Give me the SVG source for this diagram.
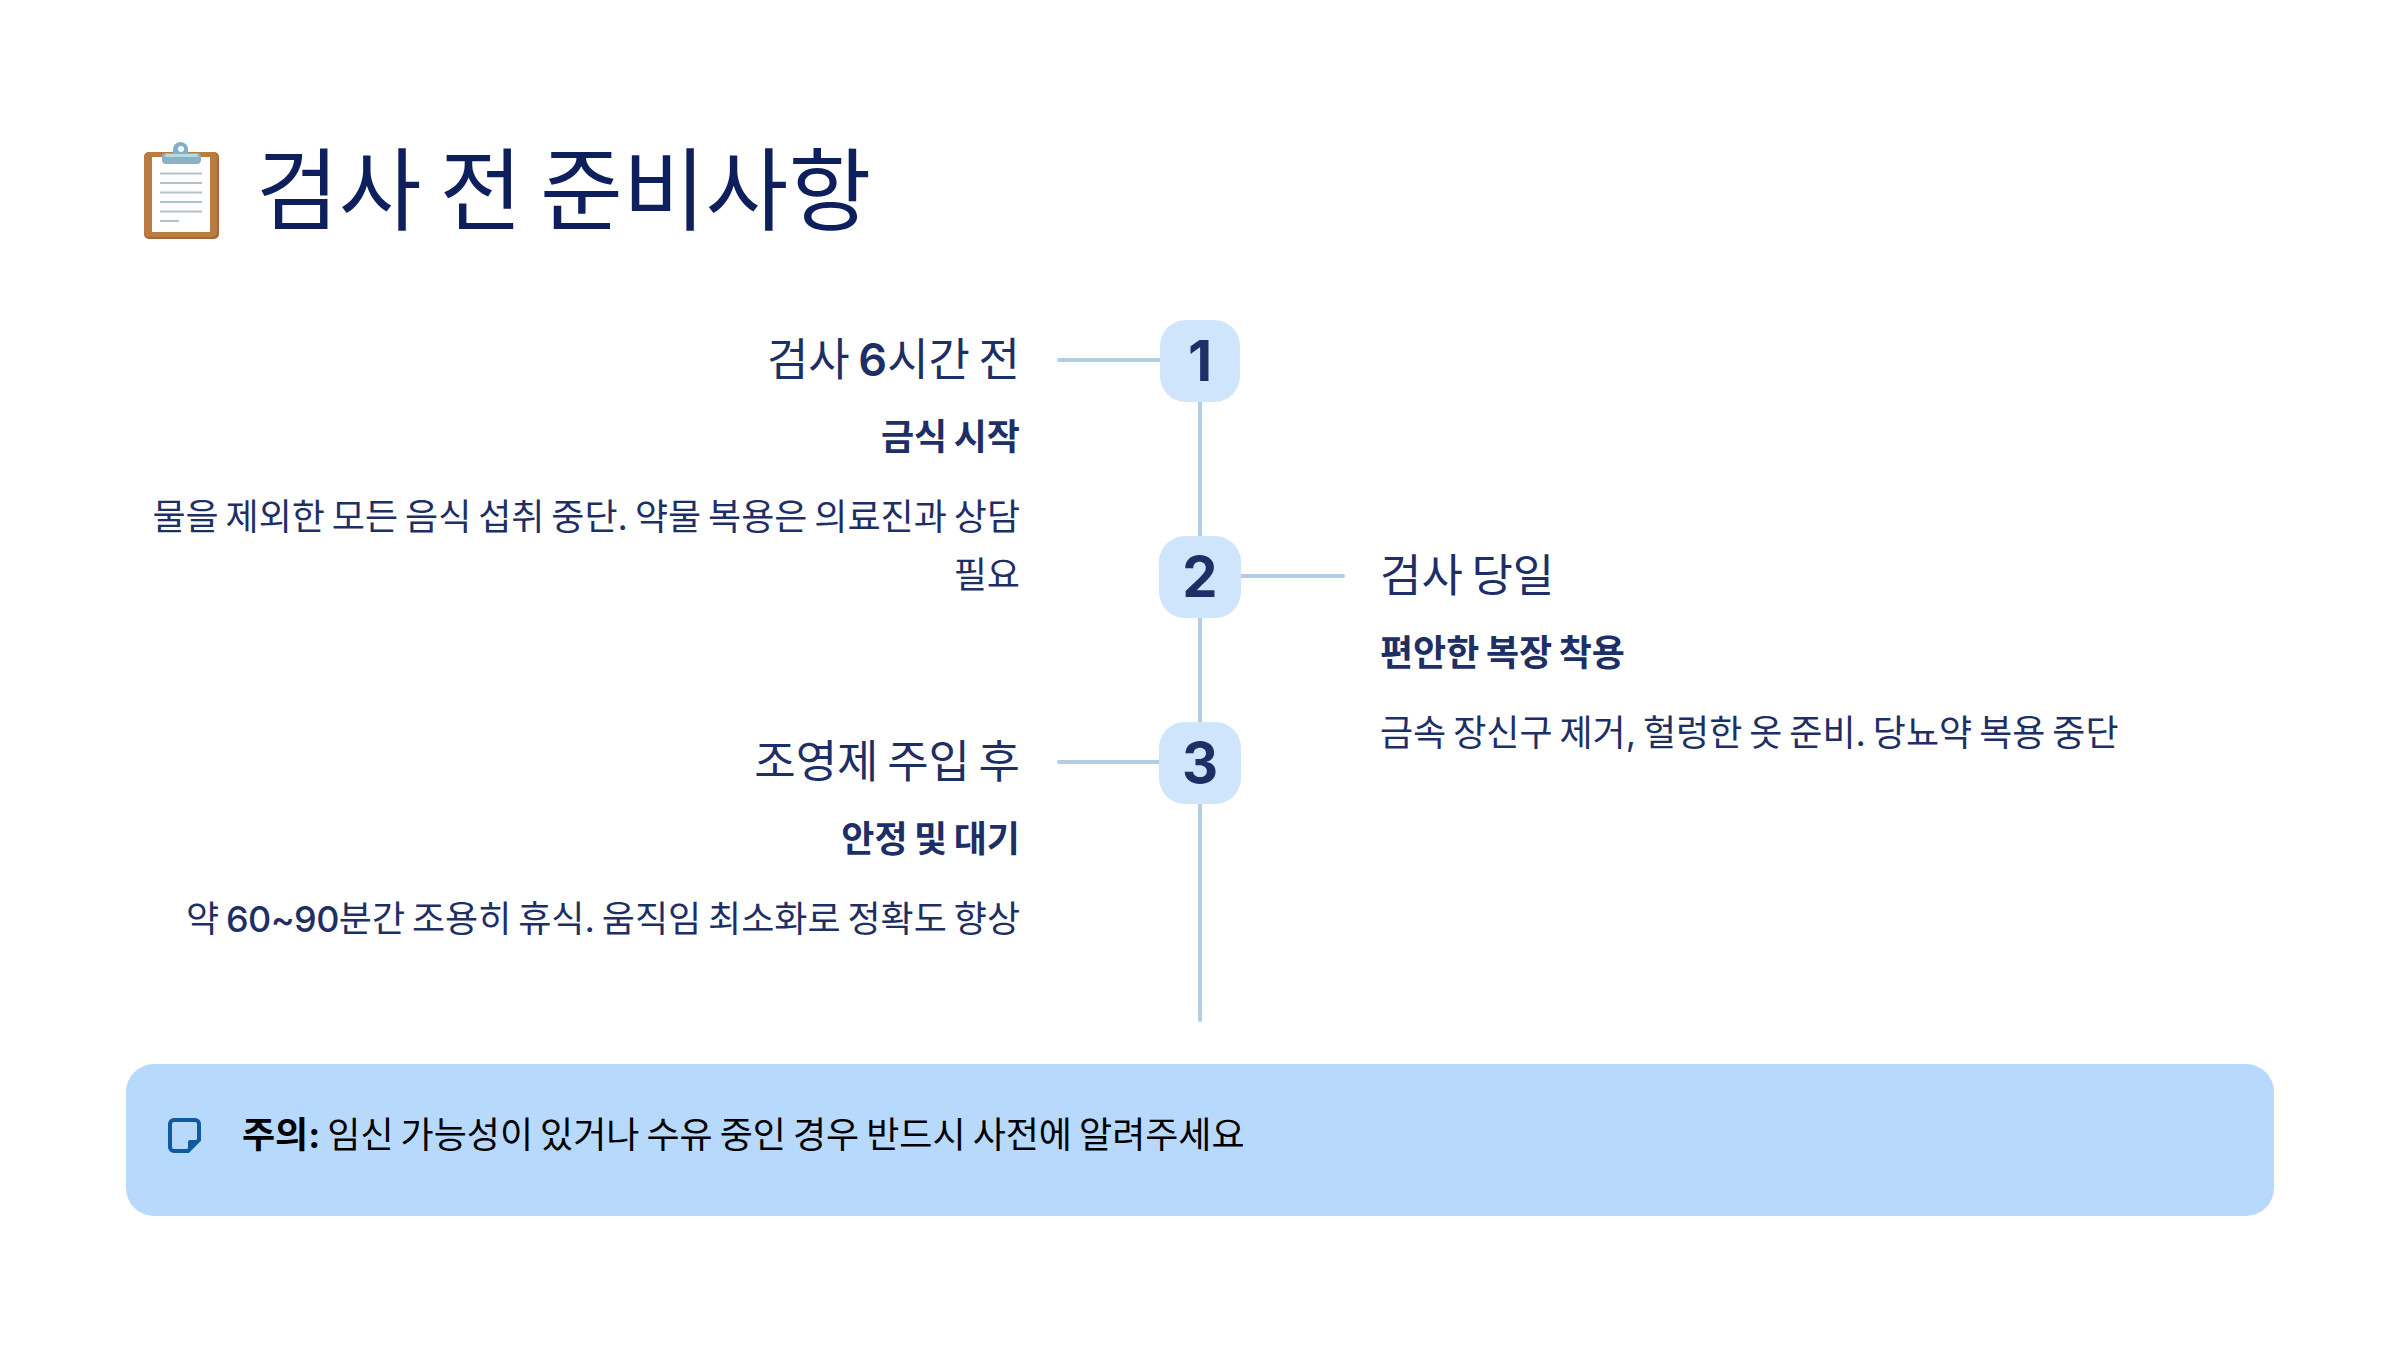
<svg xmlns="http://www.w3.org/2000/svg" width="2400" height="1350" viewBox="0 0 2400 1350">
<style>
text{font-family:Inter,"Noto Sans CJK KR",sans-serif;fill:#1e2f66}
.title{font-size:90px;fill:#0d1f5c;word-spacing:-7.500px}
.h{font-size:45px;word-spacing:-4px}
.s{font-size:36px;font-weight:700;word-spacing:-2px}
.b{font-size:36px;word-spacing:-3.200px}
.e{text-anchor:end}
.n{font-size:56px;font-weight:700;text-anchor:middle}
.badge{fill:#cfe5fc}
.ln{stroke:#b3cde5;stroke-width:4;stroke-linecap:round;fill:none}
.note{font-size:36px;fill:#000;word-spacing:-3.100px}
</style>
<rect width="2400" height="1350" fill="#fff"/>
<g id="title">
<g id="clipboard-icon">
<rect x="144" y="152" width="75" height="87" rx="5" fill="#a8673a"/>
<rect x="144" y="152" width="73" height="85" rx="5" fill="#bb7c42"/>
<rect x="152" y="157" width="58" height="75" fill="#fff"/>
<path d="M173 156 v-6.500 a7.500 7.500 0 0 1 15 0 v6.500z" fill="#7fb0c6"/>
<circle cx="181" cy="149" r="3" fill="#fff"/>
<rect x="162" y="153" width="39" height="11" rx="4" fill="#8ab2c4"/>
<rect x="165" y="154" width="33" height="3" rx="1.500" fill="#b5dbe6"/>
<path d="M160 173.500h42M160 183h42M160 192.500h42M160 202h42M160 211.500h42M160 221h19" stroke="#b2c2cb" stroke-width="2" fill="none"/>
</g>
<text class="title" x="256" y="223">검사 전 준비사항</text>
</g>
<g id="connectors">
<path class="ln" d="M1200 402V536M1200 618V722M1200 804V1020"/>
<path class="ln" d="M1059 360H1160M1241 576H1343M1059 762H1160"/>
</g>
<g id="node-1">
<rect class="badge" x="1160" y="320" width="80" height="82" rx="26"/>
<text class="n" x="1200" y="381">1</text>
<text class="h e" x="1020" y="376">검사 <tspan font-weight="600">6</tspan>시간 전</text>
<text class="s e" x="1020" y="450">금식 시작</text>
<text class="b e" x="1020" y="530">물을 제외한 모든 음식 섭취 중단. 약물 복용은 의료진과 상담</text>
<text class="b e" x="1020" y="588">필요</text>
</g>
<g id="node-2">
<rect class="badge" x="1159" y="536" width="82" height="82" rx="26"/>
<text class="n" x="1200" y="597">2</text>
<text class="h" x="1380" y="592">검사 당일</text>
<text class="s" x="1380" y="666">편안한 복장 착용</text>
<text class="b" x="1380" y="746">금속 장신구 제거, 헐렁한 옷 준비. 당뇨약 복용 중단</text>
</g>
<g id="node-3">
<rect class="badge" x="1159" y="722" width="82" height="82" rx="26"/>
<text class="n" x="1200" y="783">3</text>
<text class="h e" x="1020" y="778">조영제 주입 후</text>
<text class="s e" x="1020" y="852">안정 및 대기</text>
<text class="b e" x="1020" y="932">약 <tspan font-weight="500" letter-spacing="-0.600">60~90</tspan>분간 조용히 휴식. 움직임 최소화로 정확도 향상</text>
</g>
<g id="note">
<rect x="126" y="1064" width="2148" height="152" rx="28" fill="#b6d9fc"/>
<path d="M174 1120h21a4 4 0 0 1 4 4v16l-11 11h-14a4 4 0 0 1-4-4v-23a4 4 0 0 1 4-4z" fill="none" stroke="#0f5aa0" stroke-width="4"/>
<path d="M188 1151v-9a2 2 0 0 1 2-2h9z" fill="#0f5aa0"/>
<text class="note" x="242" y="1148"><tspan font-weight="700">주의:</tspan> 임신 가능성이 있거나 수유 중인 경우 반드시 사전에 알려주세요</text>
</g>
</svg>
